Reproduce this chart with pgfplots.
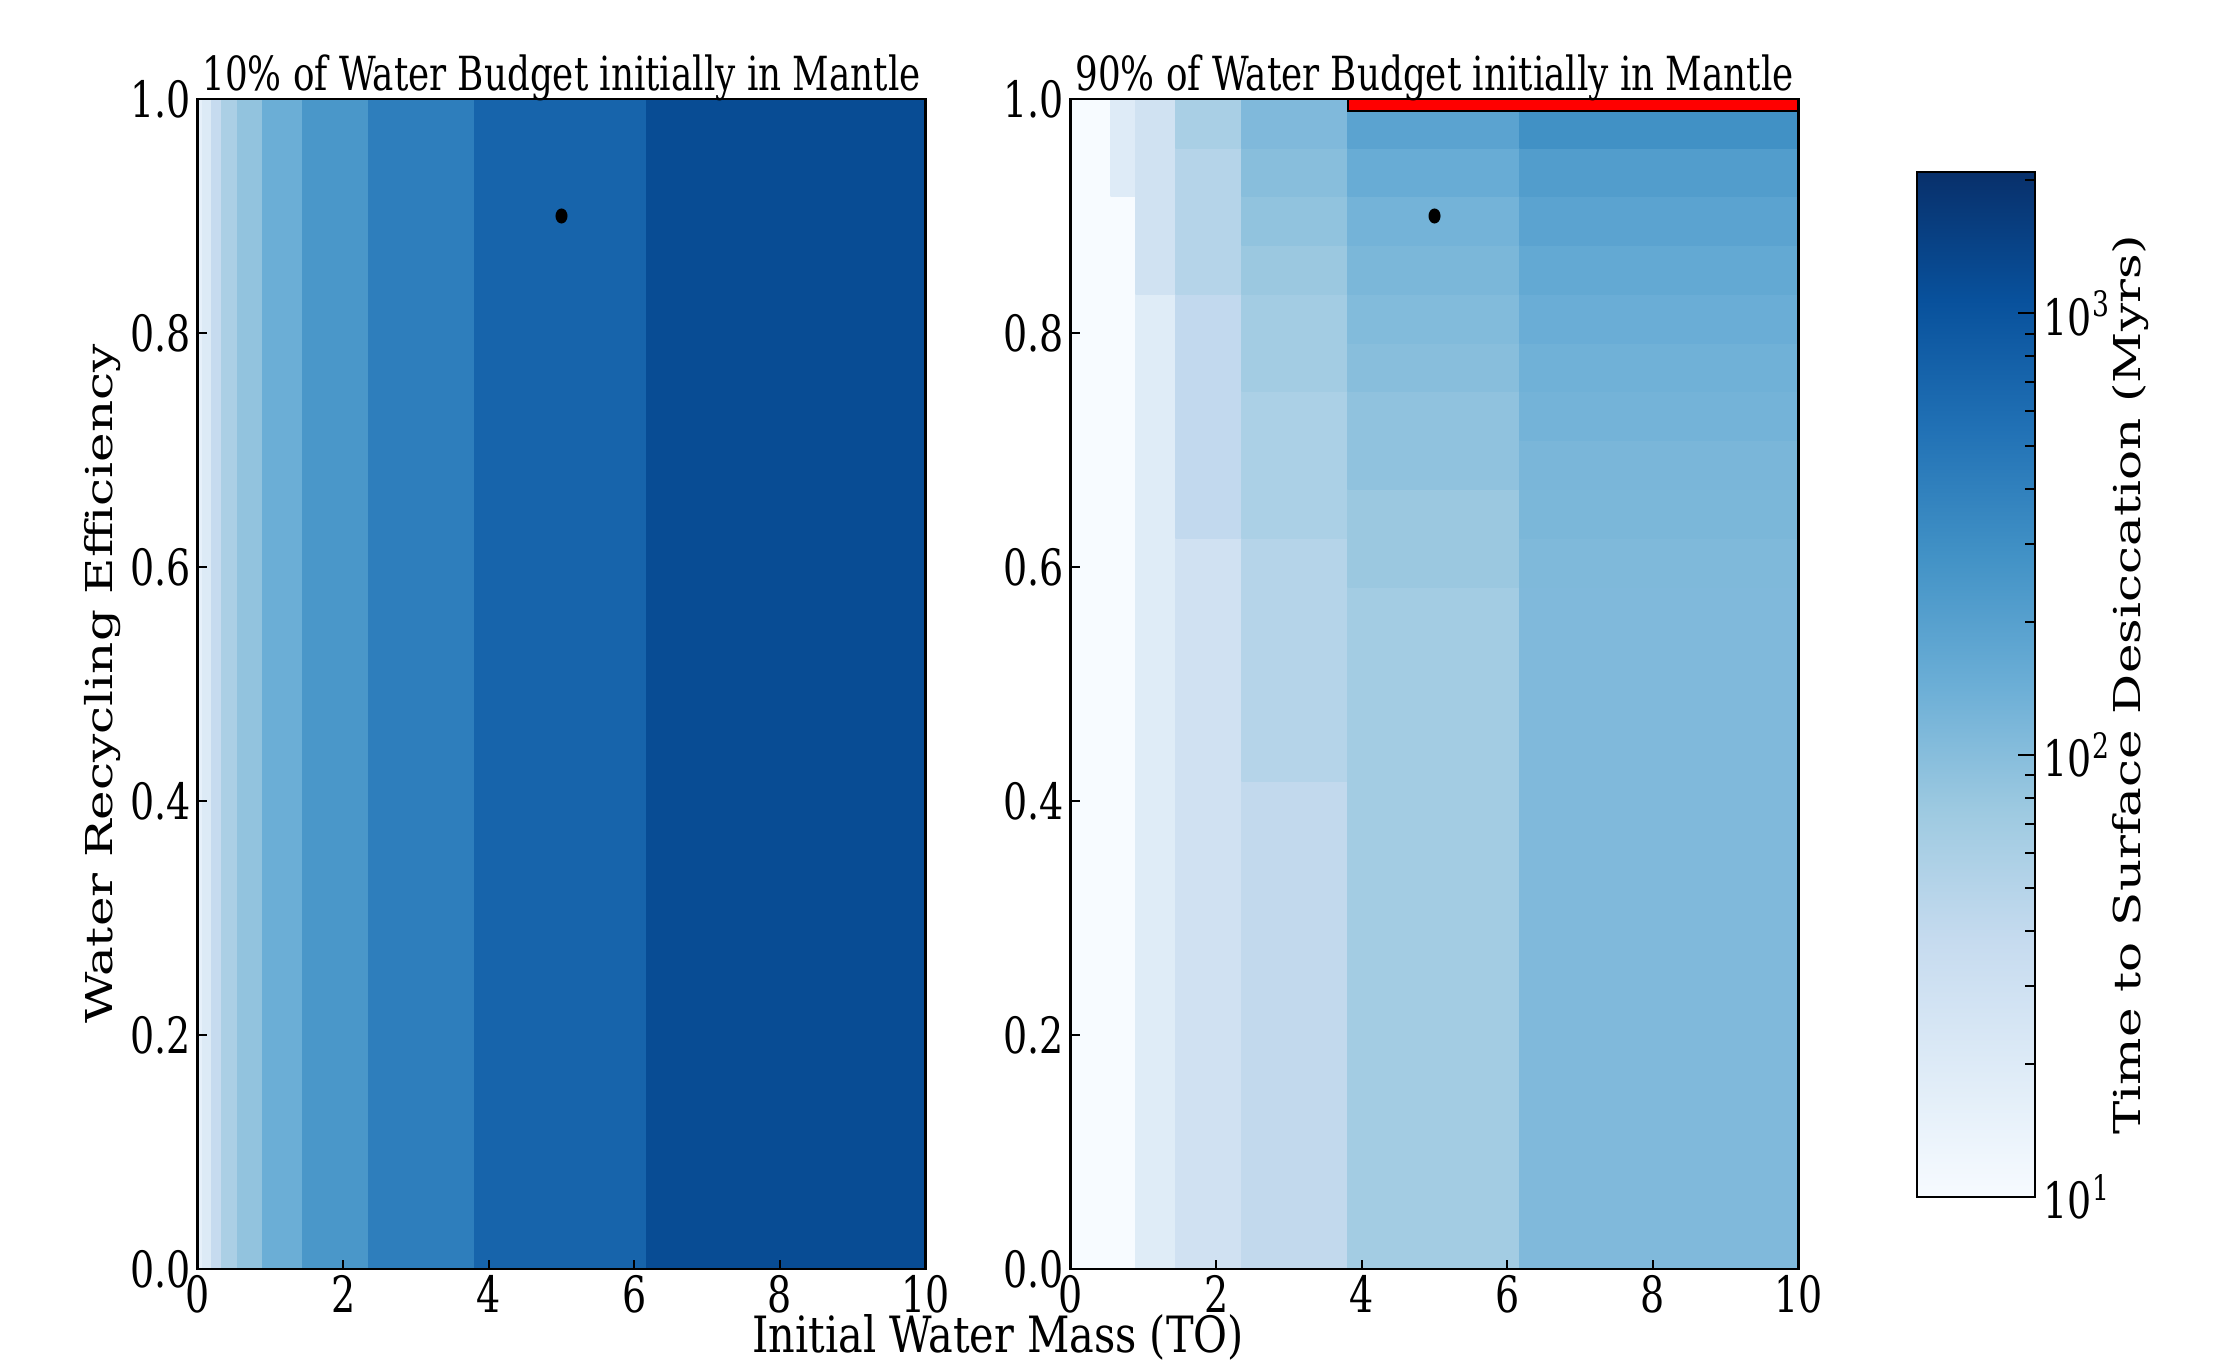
\documentclass[border=0pt]{standalone}
\usepackage{fontspec}
\setmainfont[FakeStretch=0.76]{DejaVu Serif}
\newfontfamily\rotfont{DejaVu Serif}
\usepackage{graphicx}
\usepackage{pgfplots}
\usepackage{pgfplotstable}
\pgfplotsset{compat=1.18}

% Left panel: 10% of water budget in mantle (time in Myr)
\pgfplotstableread{
x y t
0 0 10.8
0.02 0 10.8
0.02 1 10.8
0 1 10.8
0.02 0 15.7
0.07 0 15.7
0.07 1 15.7
0.02 1 15.7
0.07 0 20.5
0.20 0 20.5
0.20 1 20.5
0.07 1 20.5
0.20 0 38
0.33 0 38
0.33 1 38
0.20 1 38
0.33 0 60
0.55 0 60
0.55 1 60
0.33 1 60
0.55 0 87
0.90 0 87
0.90 1 87
0.55 1 87
0.90 0 144
1.45 0 144
1.45 1 144
0.90 1 144
1.45 0 248
2.35 0 248
2.35 1 248
1.45 1 248
2.35 0 423
3.81 0 423
3.81 1 423
2.35 1 423
3.81 0 721
6.17 0 721
6.17 1 721
3.81 1 721
6.17 0 1200
10 0 1200
10 1 1200
6.17 1 1200
}\lefttab

% Right panel: 90% of water budget in mantle (time in Myr)
\pgfplotstableread{
x y t
0 0 10
0.55 0 10
0.55 1 10
0 1 10
0.55 0 10
0.90 0 10
0.90 0.91667 10
0.55 0.91667 10
0.55 0.91667 19.5
0.90 0.91667 19.5
0.90 1 19.5
0.55 1 19.5
0.90 0 19
1.45 0 19
1.45 0.83333 19
0.90 0.83333 19
0.90 0.83333 28.8
1.45 0.83333 28.8
1.45 1 28.8
0.90 1 28.8
1.45 0 29
2.35 0 29
2.35 0.625 29
1.45 0.625 29
1.45 0.625 40.6
2.35 0.625 40.6
2.35 0.83333 40.6
1.45 0.83333 40.6
1.45 0.83333 50.5
2.35 0.83333 50.5
2.35 0.95833 50.5
1.45 0.95833 50.5
1.45 0.95833 62
2.35 0.95833 62
2.35 1 62
1.45 1 62
2.35 0 41
3.81 0 41
3.81 0.41667 41
2.35 0.41667 41
2.35 0.41667 50.5
3.81 0.41667 50.5
3.81 0.625 50.5
2.35 0.625 50.5
2.35 0.625 59.6
3.81 0.625 59.6
3.81 0.75 59.6
2.35 0.75 59.6
2.35 0.75 68
3.81 0.75 68
3.81 0.83333 68
2.35 0.83333 68
2.35 0.83333 77
3.81 0.83333 77
3.81 0.875 77
2.35 0.875 77
2.35 0.875 88
3.81 0.875 88
3.81 0.91667 88
2.35 0.91667 88
2.35 0.91667 99
3.81 0.91667 99
3.81 0.95833 99
2.35 0.95833 99
2.35 0.95833 110
3.81 0.95833 110
3.81 1 110
2.35 1 110
3.81 0 68
6.18 0 68
6.18 0.58333 68
3.81 0.58333 68
3.81 0.58333 77
6.18 0.58333 77
6.18 0.66667 77
3.81 0.66667 77
3.81 0.66667 89
6.18 0.66667 89
6.18 0.75 89
3.81 0.75 89
3.81 0.75 99
6.18 0.75 99
6.18 0.79167 99
3.81 0.79167 99
3.81 0.79167 107
6.18 0.79167 107
6.18 0.83333 107
3.81 0.83333 107
3.81 0.83333 117
6.18 0.83333 117
6.18 0.875 117
3.81 0.875 117
3.81 0.875 128
6.18 0.875 128
6.18 0.91667 128
3.81 0.91667 128
3.81 0.91667 152
6.18 0.91667 152
6.18 0.95833 152
3.81 0.95833 152
3.81 0.95833 188
6.18 0.95833 188
6.18 1 188
3.81 1 188
6.18 0 110
10 0 110
10 0.58333 110
6.18 0.58333 110
6.18 0.58333 111
10 0.58333 111
10 0.625 111
6.18 0.625 111
6.18 0.625 117
10 0.625 117
10 0.66667 117
6.18 0.66667 117
6.18 0.66667 119
10 0.66667 119
10 0.70833 119
6.18 0.70833 119
6.18 0.70833 128
10 0.70833 128
10 0.75 128
6.18 0.75 128
6.18 0.75 135
10 0.75 135
10 0.79167 135
6.18 0.79167 135
6.18 0.79167 147
10 0.79167 147
10 0.83333 147
6.18 0.83333 147
6.18 0.83333 164
10 0.83333 164
10 0.875 164
6.18 0.875 164
6.18 0.875 188
10 0.875 188
10 0.91667 188
6.18 0.91667 188
6.18 0.91667 217
10 0.91667 217
10 0.95833 217
6.18 0.95833 217
6.18 0.95833 290
10 0.95833 290
10 1 290
6.18 1 290
}\righttab

\pgfplotsset{
  colormap={blues}{rgb255(0cm)=(247,251,255); rgb255(1cm)=(222,235,247);
    rgb255(2cm)=(198,219,239); rgb255(3cm)=(158,202,225); rgb255(4cm)=(107,174,214);
    rgb255(5cm)=(66,146,198); rgb255(6cm)=(33,113,181); rgb255(7cm)=(8,81,156);
    rgb255(8cm)=(8,48,107)},
  hm/.style={
    scale only axis, width=145.6pt, height=234pt,
    xmin=0, xmax=10, ymin=0, ymax=1,
    xtick={0,2,4,6,8,10}, ytick={0,0.2,0.4,0.6,0.8,1},
    tick align=inside, xtick pos=bottom, ytick pos=left,
    major tick length=1.8pt, tick style={black, line width=0.4pt},
    axis line style={line width=0.5pt},
    axis on top,
    colormap name=blues,
    point meta min=1, point meta max=3.32,
    /pgf/number format/assume math mode=true,
    yticklabel style={/pgf/number format/.cd, fixed, fixed zerofill, precision=1},
    tick label style={font=\fontsize{10}{12}\selectfont, inner sep=1.2pt},
    xticklabel style={inner sep=0.6pt, yshift=-0.4pt},
    every axis title shift=0pt,
    title style={font=\fontsize{9.4}{11}\selectfont, inner sep=0pt, anchor=south, yshift=-0.6pt},
  },
  cells/.style={patch, patch type=rectangle, shader=flat},
}

\begin{document}
\begin{tikzpicture}
\path[use as bounding box] (0,0) rectangle (445.8pt,273pt);

\begin{axis}[hm,
  at={(39.5pt,19.2pt)}, anchor=south west,
  title={10\% of Water Budget initially in Mantle},
  ylabel={\scalebox{1}[0.74]{\rotfont\fontsize{10}{12}\selectfont Water Recycling Efficiency}},
  every axis y label/.style={at={(axis description cs:0,0.5)}, anchor=center, rotate=90, yshift=19pt},
  xlabel={\scalebox{1.09}[1]{Initial Water Mass (TO)}},
  every axis x label/.style={at={(axis description cs:1.0996,0)}, anchor=base, inner sep=0pt, yshift=-16.6pt, font=\fontsize{10}{12}\selectfont},
]
\addplot[cells] table[x=x, y=y, point meta={ln(\thisrow{t})/ln(10)}] {\lefttab};
\addplot[only marks, mark=*, mark size=1.3pt, mark options={xscale=0.77, fill=black, draw=black}] coordinates {(5,0.9)};
\end{axis}

\begin{axis}[hm,
  at={(214.1pt,19.2pt)}, anchor=south west,
  title={90\% of Water Budget initially in Mantle},
  colorbar,
  colorbar/width=23.6pt,
  colorbar style={
    scale only axis, width=23.6pt, height=205pt,
    at={(parent axis.north east)}, anchor=north west, xshift=15.2pt, yshift=-14.6pt,
    ytick={1,2,3},
    yticklabels={10\textsuperscript{1},10\textsuperscript{2},10\textsuperscript{3}},
    minor ytick={1.30103,1.47712,1.60206,1.69897,1.77815,1.84510,1.90309,1.95424,2.30103,2.47712,2.60206,2.69897,2.77815,2.84510,2.90309,2.95424,3.30103},
    ytick pos=right, yticklabel pos=right, tick align=inside,
    major tick length=3.5pt, minor tick length=2pt,
    tick style={black, line width=0.4pt},
    axis line style={line width=0.5pt},
    yticklabel style={font=\fontsize{10}{12}\selectfont, inner sep=1.5pt},
    ylabel={\scalebox{1}[0.74]{\rotfont\fontsize{10}{12}\selectfont Time to Surface Desiccation (Myrs)}},
    every axis y label/.style={at={(axis description cs:1,0.5)}, anchor=center, rotate=90, yshift=-19pt},
  },
]
\addplot[cells] table[x=x, y=y, point meta={ln(\thisrow{t})/ln(10)}] {\righttab};
\addplot[fill=red, draw=none] coordinates {(3.81,0.990) (10,0.990) (10,1) (3.81,1)} -- cycle;
\addplot[only marks, mark=*, mark size=1.3pt, mark options={xscale=0.77, fill=black, draw=black}] coordinates {(5,0.9)};
\end{axis}
\end{tikzpicture}
\end{document}
